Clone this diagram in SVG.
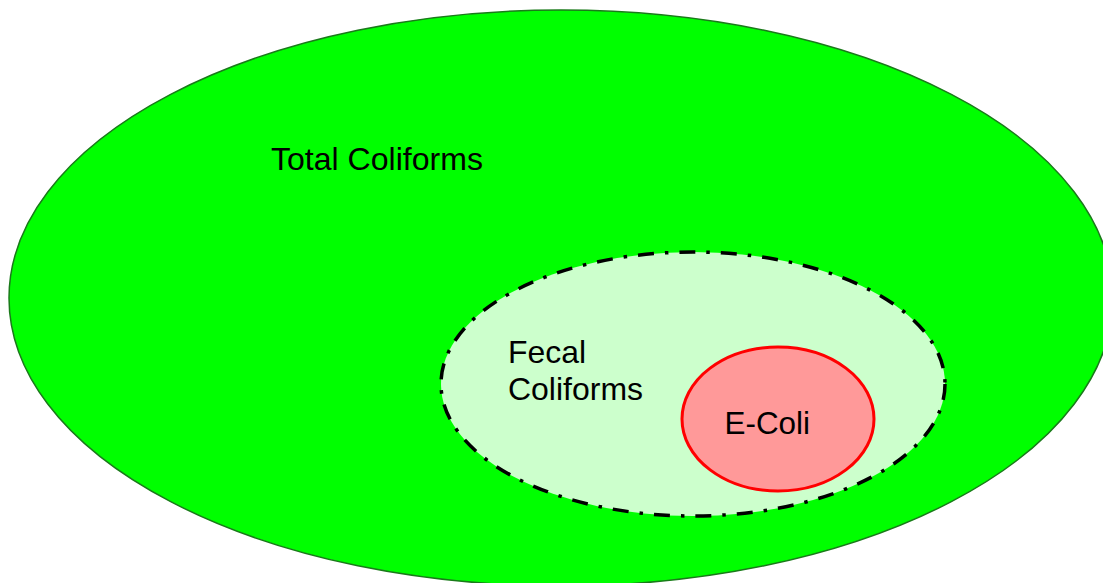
<svg xmlns="http://www.w3.org/2000/svg" width="1103" height="583" viewBox="0 0 1103 583">
<style>
text{font-family:"Liberation Sans",Arial,sans-serif;font-size:31.5px;fill:#000}
</style>
<rect width="1103" height="583" fill="#fff"/>
<g id="total">
<ellipse cx="561" cy="298" rx="552" ry="288" fill="#00FF00" stroke="#1a7a1a" stroke-width="1.5"/>
<text x="271" y="170" textLength="212" lengthAdjust="spacingAndGlyphs">Total Coliforms</text>
</g>
<g id="fecal">
<ellipse cx="693" cy="384" rx="252" ry="132" fill="#CCFFCC" stroke="#000" stroke-width="3.5" stroke-dasharray="16 11 3.5 11"/>
<text x="508" y="363" textLength="78" lengthAdjust="spacingAndGlyphs">Fecal</text>
<text x="508" y="400" textLength="135" lengthAdjust="spacingAndGlyphs">Coliforms</text>
</g>
<g id="ecoli">
<ellipse cx="778" cy="419" rx="96" ry="72" fill="#FF9999" stroke="#FF0000" stroke-width="3"/>
<text x="724.5" y="434" textLength="85.5" lengthAdjust="spacingAndGlyphs">E-Coli</text>
</g>
<g id="connectors"/>
</svg>
